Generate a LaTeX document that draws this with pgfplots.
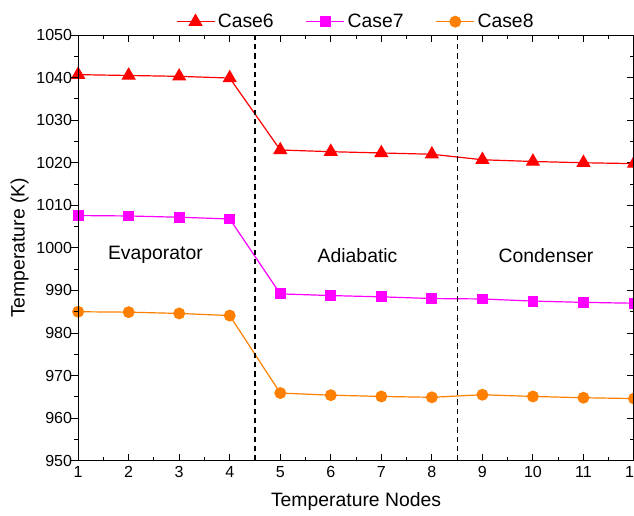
\documentclass[border=0pt]{standalone}
\usepackage{pgfplots}
\pgfplotsset{compat=1.18}
\usepackage{fontspec}
\setmainfont{Liberation Sans}
\usetikzlibrary{calc}
\definecolor{cRed}{RGB}{255,0,0}
\definecolor{cMag}{RGB}{255,0,255}
\definecolor{cOra}{RGB}{255,128,0}
\begin{document}
\begin{tikzpicture}
\begin{axis}[name=main,
  scale only axis, width=416.25pt, height=318.75pt,
  xmin=1, xmax=12, ymin=950, ymax=1050,
  xtick={1,...,12}, ytick={950,960,...,1050},
  minor x tick num=1, minor y tick num=1,
  tick align=inside, ytick pos=right, yticklabel pos=left,
  xtick pos=both, xticklabel pos=bottom,
  major tick length=5pt, minor tick length=3pt,
  tick style={black, line width=0.7pt},
  axis line style={line width=0.8pt},
  /pgf/number format/assume math mode=true,
  /pgf/number format/1000 sep={},
  ticklabel style={font=\fontsize{12}{14}\selectfont},
  xticklabel style={yshift=-1pt},
  yticklabel style={xshift=-1pt},
  xlabel={Temperature Nodes}, ylabel={Temperature (K)},
  label style={font=\fontsize{14.5}{17}\selectfont},
  xlabel style={yshift=-4pt},
  ylabel style={yshift=-1pt},
  legend style={at={(0.5,1.0)}, anchor=south, draw=none, fill=none,
    legend columns=3, font=\fontsize{14.5}{17}\selectfont,
    /tikz/every even column/.append style={column sep=22pt}},
  legend image code/.code={\draw[mark repeat=2,mark phase=2,#1] plot coordinates {(0cm,0cm) (0.5cm,0cm) (1cm,0cm)};},
  clip=false,
]
\addplot[cRed, line width=0.9pt, mark=triangle*, mark size=5.3pt, mark options={solid}] coordinates {
(1,1040.7) (2,1040.5) (3,1040.3) (4,1039.9) (5,1023.0) (6,1022.6) (7,1022.3) (8,1022.0) (9,1020.7) (10,1020.3) (11,1020.0) (12,1019.8)};
\addplot[cMag, line width=0.9pt, mark=square*, mark size=3.6pt] coordinates {
(1,1007.6) (2,1007.5) (3,1007.2) (4,1006.8) (5,989.2) (6,988.8) (7,988.5) (8,988.1) (9,988.0) (10,987.5) (11,987.2) (12,987.0)};
\addplot[cOra, line width=0.9pt, mark=*, mark size=4pt] coordinates {
(1,985.0) (2,984.9) (3,984.6) (4,984.1) (5,965.9) (6,965.4) (7,965.1) (8,964.9) (9,965.5) (10,965.1) (11,964.8) (12,964.6)};
\legend{Case6, Case7, Case8}
\draw[black, line width=0.8pt, dash pattern=on 4pt off 3pt] (axis cs:4.5,950) -- (axis cs:4.5,1050);
\draw[black, line width=0.8pt, dash pattern=on 4pt off 3pt] (axis cs:8.5,950) -- (axis cs:8.5,1050);
\node[font=\fontsize{14.5}{17}\selectfont] at (axis cs:2.53,998.3) {Evaporator};
\node[font=\fontsize{14.5}{17}\selectfont] at (axis cs:6.53,998.3) {Adiabatic};
\node[font=\fontsize{14.5}{17}\selectfont] at (axis cs:10.26,998.3) {Condenser};
\end{axis}
\begin{axis}[
  scale only axis, width=416.25pt, height=318.75pt,
  xmin=1, xmax=12, ymin=950, ymax=1050,
  ytick={950,960,...,1050}, minor y tick num=1,
  hide x axis, yticklabels={}, ytick pos=left, tick align=outside,
  major tick length=5pt, minor tick length=3pt,
  tick style={black, line width=0.7pt},
  axis line style={line width=0.8pt},
]
\end{axis}
\pgfresetboundingbox
\path[use as bounding box] ($(main.south west)+(-58.5pt,-41.25pt)$) rectangle ($(main.north east)+(0pt,26.25pt)$);
\end{tikzpicture}
\end{document}
